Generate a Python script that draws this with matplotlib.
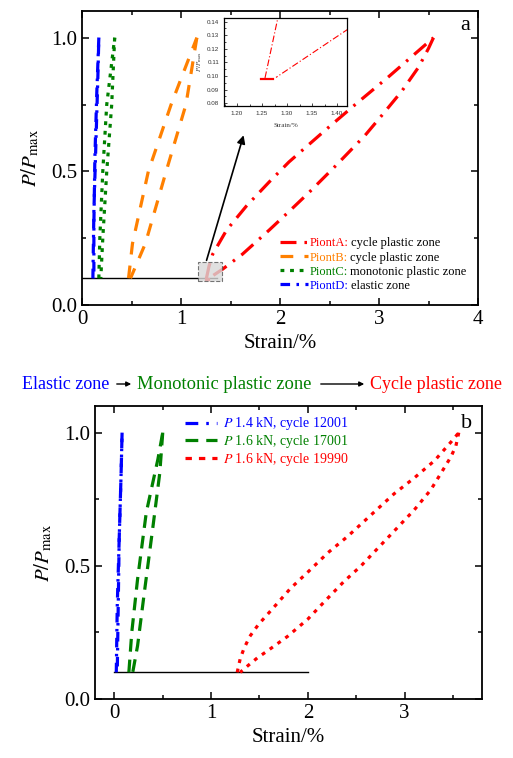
import numpy as np
import matplotlib
matplotlib.use('Agg')
import matplotlib.pyplot as plt
from matplotlib.lines import Line2D
from matplotlib.patches import Rectangle, FancyArrowPatch
from matplotlib.ticker import MultipleLocator

plt.rcParams['font.family'] = ['Liberation Serif', 'DejaVu Serif']
plt.rcParams['mathtext.fontset'] = 'stix'

#%% data, panel a (strain %, P/Pmax)
A_load_x = [1.256, 1.283, 1.32, 1.46, 1.66, 1.89, 2.09, 2.46, 2.76, 3.10, 3.55]
A_load_y = [0.0986, 0.145, 0.19, 0.28, 0.37, 0.46, 0.535, 0.655, 0.75, 0.855, 1.0]
A_unld_x = [3.55, 3.50, 3.40, 3.23, 3.03, 2.86, 2.56, 2.29, 2.12, 1.89, 1.62, 1.42, 1.278]
A_unld_y = [1.0, 0.96, 0.89, 0.80, 0.71, 0.635, 0.52, 0.42, 0.36, 0.28, 0.19, 0.134, 0.099]
A_base_x = [1.248, 1.272]
A_base_y = [0.0975, 0.0975]

B_load_x = [0.47, 0.51, 0.67, 0.90, 1.16]
B_load_y = [0.10, 0.23, 0.50, 0.75, 1.0]
B_unld_x = [1.16, 1.05, 0.85, 0.64, 0.49]
B_unld_y = [1.0, 0.75, 0.50, 0.23, 0.10]

C_load_x = [0.17, 0.18, 0.21, 0.25, 0.33]
C_load_y = [0.10, 0.25, 0.50, 0.75, 1.0]
C_unld_x = [0.33, 0.30, 0.25, 0.21, 0.19]
C_unld_y = [1.0, 0.75, 0.50, 0.25, 0.10]

D_load_x = [0.11, 0.12, 0.14, 0.16, 0.17]
D_load_y = [0.10, 0.35, 0.60, 0.85, 1.0]
D_unld_x = [0.17, 0.15, 0.13, 0.12, 0.12]
D_unld_y = [1.0, 0.80, 0.55, 0.30, 0.10]

base_a_x = [0.0, 1.36]
base_y = [0.1, 0.1]

names_a = ['PiontA:', 'PiontB:', 'PiontC:', 'PiontD:']
zones_a = ['cycle plastic zone', 'cycle plastic zone', 'monotonic plastic zone', 'elastic zone']

#%% data, panel b
b_labels = [r'$P$ 1.4 kN, cycle 12001', r'$P$ 1.6 kN, cycle 17001', r'$P$ 1.6 kN, cycle 19990']

E_load_x = [0.02, 0.03, 0.05, 0.07, 0.08]
E_load_y = [0.10, 0.35, 0.60, 0.85, 1.0]
E_unld_x = [0.08, 0.07, 0.05, 0.04, 0.03]
E_unld_y = [1.0, 0.85, 0.60, 0.35, 0.10]

M_load_x = [0.15, 0.18, 0.24, 0.33, 0.45, 0.50]
M_load_y = [0.10, 0.25, 0.45, 0.70, 0.90, 1.0]
M_unld_x = [0.50, 0.47, 0.40, 0.31, 0.24, 0.19]
M_unld_y = [1.0, 0.85, 0.65, 0.40, 0.20, 0.10]

P_load_x = [1.27, 1.30, 1.34, 1.40, 1.49, 1.65, 1.82, 2.01, 2.21, 2.41, 2.62, 2.89, 3.10, 3.31, 3.48, 3.56]
P_load_y = [0.10, 0.15, 0.19, 0.235, 0.28, 0.345, 0.415, 0.48, 0.55, 0.61, 0.68, 0.77, 0.83, 0.895, 0.965, 1.0]
P_unld_x = [3.56, 3.53, 3.48, 3.38, 3.27, 3.10, 2.93, 2.76, 2.55, 2.37, 2.17, 2.00, 1.79, 1.58, 1.48, 1.38, 1.30]
P_unld_y = [1.0, 0.95, 0.91, 0.85, 0.785, 0.71, 0.645, 0.58, 0.50, 0.44, 0.365, 0.30, 0.235, 0.18, 0.155, 0.125, 0.10]

base_b_x = [0.0, 2.0]

#%% styles
cA, cB, cC, cD = 'red', '#FF8000', '#008000', 'blue'
lsA = (0, (5, 2.5, 0.8, 2.5))
lsB = (0, (4, 3.5))
lsC = (0, (1.2, 1.8))
lsD = (0, (3, 2, 0.8, 2))
lw = 2.3

fig = plt.figure(figsize=(5.13, 7.58), dpi=100)
W, H = 513, 758
ax1 = fig.add_axes([82/W, 1-305/H, (478-82)/W, (305-11)/H])
ax2 = fig.add_axes([95/W, 1-699/H, (482-95)/W, (699-406)/H])


def style_axes(ax):
    ax.tick_params(which='both', direction='in', top=True, right=True, labelsize=15, width=1.1)
    ax.tick_params(which='major', length=5)
    ax.tick_params(which='minor', length=3)
    for s in ax.spines.values():
        s.set_linewidth(1.3)
    ax.xaxis.set_major_locator(MultipleLocator(1))
    ax.xaxis.set_minor_locator(MultipleLocator(0.5))
    ax.yaxis.set_major_locator(MultipleLocator(0.5))
    ax.yaxis.set_minor_locator(MultipleLocator(0.25))
    ax.yaxis.set_major_formatter(matplotlib.ticker.FormatStrFormatter('%.1f'))
    ax.set_xlabel('Strain/%', fontsize=15, labelpad=4)
    ax.set_ylabel(r'$P/P_{\rm max}$', fontsize=15, labelpad=7)


#%% panel a
ax1.plot(base_a_x, base_y, color='k', lw=1)
for xs, ys in [(A_load_x, A_load_y), (A_unld_x, A_unld_y)]:
    ax1.plot(xs, ys, color=cA, ls=lsA, lw=lw)
ax1.plot(A_base_x, A_base_y, color=cA, lw=lw)
for xs, ys in [(B_load_x, B_load_y), (B_unld_x, B_unld_y)]:
    ax1.plot(xs, ys, color=cB, ls=lsB, lw=lw)
for xs, ys in [(C_load_x, C_load_y), (C_unld_x, C_unld_y)]:
    ax1.plot(xs, ys, color=cC, ls=lsC, lw=lw)
for xs, ys in [(D_load_x, D_load_y), (D_unld_x, D_unld_y)]:
    ax1.plot(xs, ys, color=cD, ls=lsD, lw=lw)

ax1.add_patch(Rectangle((1.17, 0.09), 0.24, 0.07, facecolor='#d9d9d9', alpha=0.8,
                        edgecolor='#555555', ls='--', lw=0.8, zorder=4))
ax1.annotate('', xy=(1.64, 0.645), xytext=(1.25, 0.157),
             arrowprops=dict(arrowstyle='-|>', color='k', lw=1.2, mutation_scale=12), zorder=5)

ax1.set_xlim(0, 4)
ax1.set_ylim(0, 1.1)
style_axes(ax1)
ax1.text(0.967, 0.95, 'a', transform=ax1.transAxes, fontsize=16, ha='center', va='center')

handles_a = [Line2D([], [], color=c, ls=l, lw=lw) for c, l in
             [(cA, lsA), (cB, lsB), (cC, lsC), (cD, lsD)]]
leg1 = ax1.legend(handles_a, names_a, loc='upper left', bbox_to_anchor=(0.5, 0.23),
                  frameon=False, fontsize=9, handlelength=2.2, handletextpad=0.15,
                  labelspacing=0.17, borderpad=0, borderaxespad=0)
for t, c, z in zip(leg1.get_texts(), [cA, cB, cC, cD], zones_a):
    t.set_color(c)
    ax1.annotate(z, xy=(1, 0), xycoords=t, xytext=(2, 0), textcoords='offset points',
                 fontsize=9, va='bottom', ha='left', zorder=6)

#%% inset
axi = fig.add_axes([224/W, 1-106/H, (347-224)/W, (106-18)/H])
axi.set_facecolor('white')
axi.plot(A_load_x, A_load_y, color=cA, ls=(0, (6, 2, 1, 2)), lw=0.8)
axi.plot(A_unld_x, A_unld_y, color=cA, ls=(0, (6, 2, 1, 2)), lw=0.8)
axi.plot(A_base_x, A_base_y, color=cA, lw=1.6)
axi.set_xlim(1.174, 1.42)
axi.set_ylim(0.078, 0.1427)
axi.xaxis.set_major_locator(MultipleLocator(0.05))
axi.xaxis.set_minor_locator(MultipleLocator(0.025))
axi.yaxis.set_major_locator(MultipleLocator(0.01))
axi.yaxis.set_minor_locator(MultipleLocator(0.005))
axi.tick_params(which='both', direction='in', labelsize=4.5, labelcolor='#333333',
                width=0.5, labelfontfamily='Liberation Sans')
axi.tick_params(which='major', length=2.5)
axi.tick_params(which='minor', length=1.5)
axi.xaxis.set_major_formatter(matplotlib.ticker.FormatStrFormatter('%.2f'))
axi.yaxis.set_major_formatter(matplotlib.ticker.FormatStrFormatter('%.2f'))
for s in axi.spines.values():
    s.set_linewidth(0.9)
axi.set_xlabel('Strain/%', fontsize=5, labelpad=5, color='#333333')
axi.set_ylabel(r'$P/P_{\rm max}$', fontsize=5, labelpad=2, color='#333333')

#%% text between panels
yb = 1 - 389/H
fig.text(22/W, yb, 'Elastic zone', color='blue', fontsize=13, va='baseline')
fig.text(137/W, yb, 'Monotonic plastic zone', color='#008000', fontsize=13.3, va='baseline')
fig.text(370/W, yb, 'Cycle plastic zone', color='red', fontsize=13, va='baseline')
ya = 1 - 384/H
for x0, x1 in [(114, 134), (318, 367)]:
    fig.add_artist(FancyArrowPatch((x0/W, ya), (x1/W, ya), transform=fig.transFigure,
                                   arrowstyle='-|>', mutation_scale=7, color='k', lw=1))

#%% panel b
ax2.plot(base_b_x, base_y, color='k', lw=1)
for xs, ys in [(E_load_x, E_load_y), (E_unld_x, E_unld_y)]:
    ax2.plot(xs, ys, color=cD, ls=lsD, lw=lw)
for xs, ys in [(M_load_x, M_load_y), (M_unld_x, M_unld_y)]:
    ax2.plot(xs, ys, color=cC, ls=(0, (4, 2.5)), lw=lw)
for xs, ys in [(P_load_x, P_load_y), (P_unld_x, P_unld_y)]:
    ax2.plot(xs, ys, color=cA, ls=lsC, lw=lw)
ax2.set_xlim(-0.2, 3.8)
ax2.set_ylim(0, 1.1)
style_axes(ax2)
ax2.text(0.96, 0.94, 'b', transform=ax2.transAxes, fontsize=16, ha='center', va='center')

handles_b = [Line2D([], [], color=cD, ls=(0, (4, 2.5, 0.8, 2.5, 0.8, 2.5)), lw=lw),
             Line2D([], [], color=cC, ls=(0, (4, 2.5)), lw=lw),
             Line2D([], [], color=cA, ls=(0, (2, 2.2)), lw=lw)]
leg2 = ax2.legend(handles_b, b_labels, loc='upper left', bbox_to_anchor=(0.233, 0.968),
                  frameon=False, fontsize=10, handlelength=2.3, handletextpad=0.4,
                  labelspacing=0.05, borderpad=0, borderaxespad=0)
for t, c in zip(leg2.get_texts(), [cD, cC, cA]):
    t.set_color(c)

fig.canvas.draw()
fig.savefig('out.png', dpi=100)
